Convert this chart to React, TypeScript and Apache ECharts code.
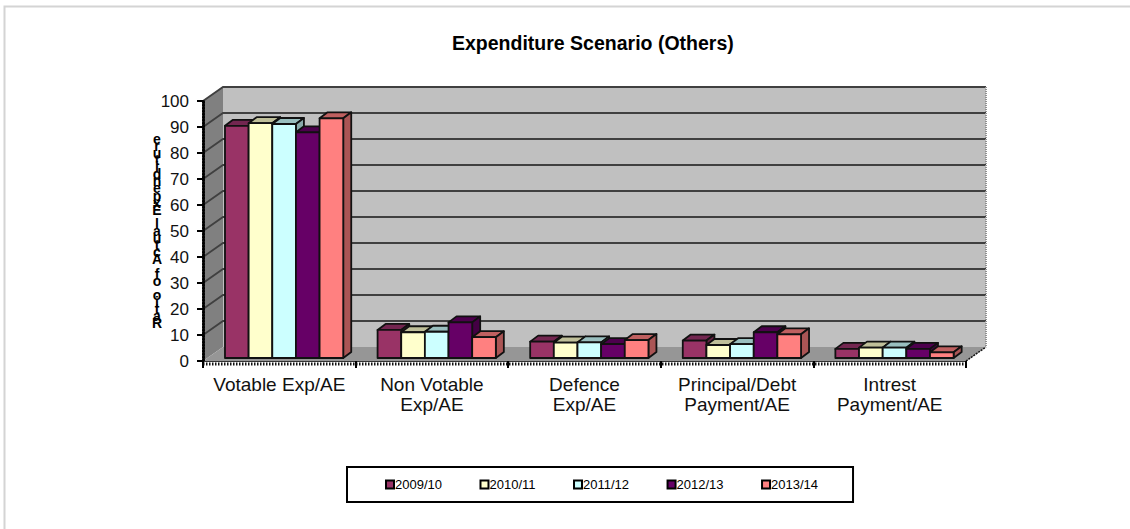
import React, { useEffect, useRef } from "react";
import * as echarts from "echarts";

const categories = ["Votable Exp/AE", "Non Votable\nExp/AE", "Defence\nExp/AE", "Principal/Debt\nPayment/AE", "Intrest\nPayment/AE"];
const years = ["2009/10", "2010/11", "2011/12", "2012/13", "2013/14"];
const v0910 = [89.3, 10.8, 6.3, 6.7, 3.5];
const v1011 = [90.3, 9.9, 5.9, 5.0, 4.0];
const v1112 = [90.0, 10.1, 6.0, 5.3, 4.0];
const v1213 = [86.8, 13.7, 5.3, 9.9, 3.5];
const v1314 = [92.2, 8.0, 6.9, 9.1, 2.2];
const seriesValues = [v0910, v1011, v1112, v1213, v1314];
const fronts = ["#993366", "#FFFFCC", "#CCFFFF", "#660066", "#FF8080"];
const tops = ["#732650", "#BFBF99", "#99BFBF", "#4D004D", "#BF6060"];
const sides = ["#662244", "#AAAA88", "#88AAAA", "#440044", "#AA5555"];
const yTitle = "Ratio of Actual Expenditure";

const DX = 20, DY = -14;
const BAR_DX = 8, BAR_DY = -6;
const OUT = { stroke: "#111", lineWidth: 1.8, lineJoin: "round" as const };

function poly(points: number[][], fill: string, style: any = OUT) {
  return { type: "polygon", shape: { points }, style: { fill, ...style } };
}

function renderWalls(params: any, api: any) {
  const catW = api.size([1, 0])[0];
  const [cx, y0] = api.coord([0, 0]);
  const x0 = cx - catW / 2;
  const x1 = x0 + catW * 5;
  const y100 = api.coord([0, 100])[1];
  const none = { stroke: "none" };
  const kids: any[] = [
    poly([[x0 + DX, y100 + DY], [x1 + DX, y100 + DY], [x1 + DX, y0 + DY], [x0 + DX, y0 + DY]], "#C0C0C0", none),
    poly([[x0, y100], [x0 + DX, y100 + DY], [x0 + DX, y0 + DY], [x0, y0]], "#808080", none),
    poly([[x0, y0], [x0 + DX, y0 + DY], [x1 + DX, y0 + DY], [x1, y0]], "#969696", none),
  ];
  for (let v = 10; v <= 100; v += 10) {
    const y = api.coord([0, v])[1];
    kids.push({ type: "polyline", shape: { points: [[x0, y], [x0 + DX, y + DY], [x1 + DX, y + DY]] }, style: { fill: "none", stroke: "#404040", lineWidth: 1.8 } });
  }
  kids.push({ type: "line", shape: { x1: x1, y1: y0, x2: x1 + DX, y2: y0 + DY }, style: { stroke: "#111", lineWidth: 1.5, lineDash: [2, 1] } });
  kids.push({ type: "line", shape: { x1: x1 + DX, y1: y100 + DY, x2: x1 + DX, y2: y0 + DY }, style: { stroke: "#909090", lineWidth: 2, lineDash: [1, 1] } });
  kids.push({ type: "line", shape: { x1: x0, y1: y0 + 3, x2: x1, y2: y0 + 3 }, style: { stroke: "#111", lineWidth: 3, lineDash: [1.5, 1.5] } });
  return { type: "group", children: kids };
}

function renderBar(params: any, api: any) {
  const cat = api.value(0);
  const val = api.value(1);
  const s = params.seriesIndex - 1;
  const catW = api.size([1, 0])[0];
  const barW = catW * 0.155;
  const left = api.coord([cat, 0])[0] - catW / 2 + catW * 0.144 + s * barW;
  const yTop = api.coord([cat, val])[1] - 3;
  const yBase = api.coord([cat, 0])[1] - 3;
  const r = left + barW;
  return {
    type: "group",
    children: [
      poly([[left, yTop], [left + BAR_DX, yTop + BAR_DY], [r + BAR_DX, yTop + BAR_DY], [r, yTop]], tops[s]),
      poly([[r, yTop], [r + BAR_DX, yTop + BAR_DY], [r + BAR_DX, yBase + BAR_DY], [r, yBase]], sides[s]),
      poly([[left, yTop], [r, yTop], [r, yBase], [left, yBase]], fronts[s]),
    ],
  };
}

export default function App() {
  const ref = useRef<HTMLDivElement>(null);
  useEffect(() => {
    const chart = echarts.init(ref.current!, undefined, { renderer: "svg" });
    chart.setOption({
      animation: false,
      backgroundColor: "#fff",
      textStyle: { fontFamily: "Liberation Sans" },
      title: {
        text: "Expenditure Scenario (Others)",
        left: 447, top: 28,
        textStyle: { fontFamily: "Liberation Sans", fontSize: 19.5, fontWeight: "bold", color: "#000" },
      },
      grid: { left: 203, right: 164, top: 101, bottom: 168 },
      xAxis: {
        type: "category", data: categories,
        axisLine: { lineStyle: { color: "#333", width: 1 } },
        axisTick: { show: true, alignWithLabel: false, length: 7, lineStyle: { color: "#000", width: 2 } },
        axisLabel: { fontSize: 19, color: "#111", lineHeight: 20, margin: 13, interval: 0 },
        splitLine: { show: false },
        z: 20,
      },
      yAxis: {
        type: "value", min: 0, max: 100, interval: 10,
        name: yTitle.split("").reverse().join("\n"),
        nameLocation: "middle", nameRotate: 0, nameGap: 46, nameMoveOverlap: false,
        nameTextStyle: { fontSize: 14, fontWeight: "bold", color: "#000", lineHeight: 7.1, align: "center", verticalAlign: "middle" },
        axisLine: { show: true, lineStyle: { color: "#000", width: 3, type: [1.5, 1.5] } },
        axisTick: { show: true, length: 6, lineStyle: { color: "#000", width: 2 } },
        axisLabel: { fontSize: 17, color: "#111", margin: 14 },
        splitLine: { show: false },
        z: 20,
      },
      legend: {
        data: years.map((y, i) => ({ name: y, icon: "rect", itemStyle: { color: fronts[i], borderColor: "#000", borderWidth: 2 } })),
        left: 347, top: 467,
        orient: "horizontal",
        itemWidth: 8, itemHeight: 8, itemGap: 37.5,
        padding: [11, 35, 11, 38],
        borderColor: "#000", borderWidth: 2,
        selectedMode: false,
        textStyle: { fontSize: 13, color: "#000", padding: [0, 0, 0, -4] },
      },
      graphic: [
        { type: "rect", shape: { x: 4.5, y: 6.5, width: 1200, height: 600 }, style: { fill: "none", stroke: "#D4D4D4", lineWidth: 2 }, z: -10 },
      ],
      series: [
        {
          type: "custom", name: "walls", renderItem: renderWalls, data: [[0, 0]],
          encode: { x: 0, y: 1 }, silent: true, z: 1, legendHoverLink: false,
        },
        ...years.map((y, i) => ({
          type: "custom", name: y, renderItem: renderBar,
          data: seriesValues[i].map((v, c) => [c, v]),
          encode: { x: 0, y: 1 }, z: 5 + i,
          itemStyle: { color: fronts[i] },
        })),
      ],
    });
    return () => chart.dispose();
  }, []);
  return <div ref={ref} style={{ position: "fixed", left: 0, top: 0, width: 1130, height: 529 }} />;
}
